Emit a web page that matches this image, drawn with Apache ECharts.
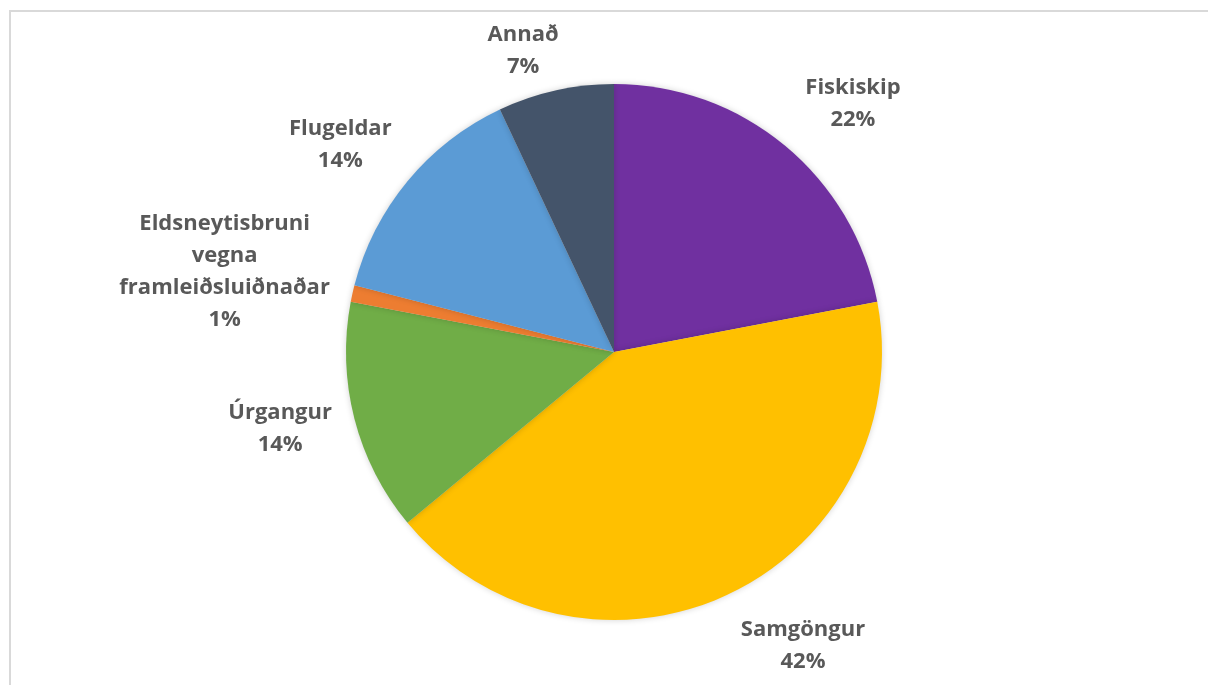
<!DOCTYPE html>
<html>
<head>
<meta charset="utf-8">
<script src="https://cdn.jsdelivr.net/npm/echarts@6/dist/echarts.min.js"></script>
<style>
  html, body { margin: 0; padding: 0; background: #ffffff; }
  #chart { width: 1208px; height: 685px; }
</style>
</head>
<body>
<div id="chart"></div>
<script>
// Emission sources, shares in percent
const categories = ['Fiskiskip', 'Samgöngur', 'Úrgangur', 'Eldsneytisbruni\nvegna\nframleiðsluiðnaðar', 'Flugeldar', 'Annað'];
const values = [22, 42, 14, 1, 14, 7];
const colors = ['#7030A0', '#FFC000', '#70AD47', '#ED7D31', '#5B9BD5', '#44546A'];

// Small per-label offsets (px) applied after the outside label layout
const labelNudge = [[4, -28], [0, 35], [0, 6], [0, -18], [3, -25], [12, -22]];

const chart = echarts.init(document.getElementById('chart'), null, { renderer: 'canvas' });

chart.setOption({
  backgroundColor: '#ffffff',
  animation: false,
  graphic: [{
    type: 'rect',
    shape: { x: 10, y: 11, width: 1400, height: 900 },
    style: { fill: 'none', stroke: '#d9d9d9', lineWidth: 2 },
    silent: true
  }],
  series: [{
    type: 'pie',
    center: [614, 352],
    radius: 268,
    startAngle: 90,
    clockwise: true,
    avoidLabelOverlap: false,
    data: categories.map((name, i) => ({
      name: name,
      value: values[i],
      itemStyle: { color: colors[i] }
    })),
    itemStyle: {
      borderWidth: 0,
      shadowBlur: 6,
      shadowColor: 'rgba(0,0,0,0.18)'
    },
    label: {
      show: true,
      position: 'outside',
      formatter: p => p.name + '\n' + Math.round(p.value) + '%',
      fontFamily: '"Open Sans", sans-serif',
      fontWeight: 'bold',
      fontSize: 22,
      lineHeight: 32,
      color: '#595959'
    },
    labelLine: { show: false, length: 18, length2: 0 },
    labelLayout: function (params) {
      const r = params.labelRect;
      const n = labelNudge[params.dataIndex] || [0, 0];
      return {
        x: r.x + r.width / 2 + n[0],
        y: r.y + r.height / 2 + n[1],
        align: 'center',
        verticalAlign: 'middle'
      };
    },
    emphasis: { disabled: true }
  }]
});
</script>
</body>
</html>
